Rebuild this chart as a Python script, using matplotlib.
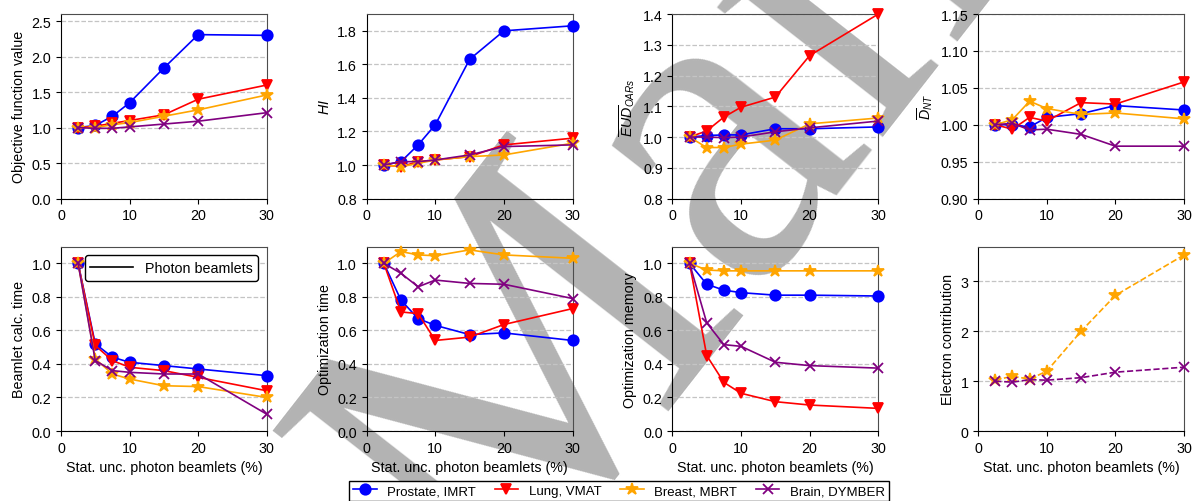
import numpy as np
import matplotlib
matplotlib.use("Agg")
import matplotlib.pyplot as plt
from matplotlib.lines import Line2D

plt.rcParams['font.family'] = ['Liberation Sans', 'DejaVu Sans']
plt.rcParams['mathtext.fontset'] = 'custom'
plt.rcParams['mathtext.rm'] = 'Liberation Sans'
plt.rcParams['mathtext.it'] = 'Liberation Sans:italic'
plt.rcParams['font.size'] = 10.3

# Statistical uncertainty of photon beamlets (%)
unc = [2.5, 5, 7.5, 10, 15, 20, 30]

# Objective function value
obj_prostate = [1.00, 1.03, 1.16, 1.35, 1.84, 2.31, 2.30]
obj_lung = [1.00, 1.02, 1.06, 1.10, 1.18, 1.40, 1.60]
obj_breast = [1.00, 1.00, 1.04, 1.07, 1.16, 1.25, 1.46]
obj_brain = [1.00, 0.99, 0.99, 1.01, 1.05, 1.09, 1.21]

# HI
hi_prostate = [1.00, 1.02, 1.12, 1.24, 1.63, 1.80, 1.83]
hi_lung = [1.00, 0.99, 1.02, 1.03, 1.05, 1.12, 1.16]
hi_breast = [1.00, 0.99, 1.01, 1.03, 1.05, 1.06, 1.13]
hi_brain = [1.00, 1.02, 1.02, 1.03, 1.06, 1.11, 1.12]

# mean EUD OARs
eud_prostate = [1.000, 1.005, 1.007, 1.007, 1.027, 1.027, 1.033]
eud_lung = [1.000, 1.020, 1.065, 1.097, 1.130, 1.265, 1.400]
eud_breast = [1.000, 0.966, 0.966, 0.977, 0.990, 1.043, 1.062]
eud_brain = [1.000, 1.000, 0.998, 1.000, 1.017, 1.030, 1.052]

# mean dose normal tissue
dnt_prostate = [1.000, 1.000, 0.997, 1.010, 1.015, 1.026, 1.020]
dnt_lung = [1.000, 0.994, 1.010, 1.005, 1.030, 1.028, 1.058]
dnt_breast = [1.000, 1.007, 1.032, 1.022, 1.014, 1.016, 1.008]
dnt_brain = [1.000, 1.002, 0.993, 0.994, 0.987, 0.971, 0.971]

# Beamlet calculation time
bct_prostate = [1.00, 0.52, 0.44, 0.41, 0.39, 0.37, 0.33]
bct_lung = [1.00, 0.51, 0.42, 0.38, 0.36, 0.32, 0.24]
bct_breast = [1.00, 0.43, 0.34, 0.31, 0.27, 0.265, 0.20]
bct_brain = [1.00, 0.42, 0.36, 0.35, 0.34, 0.34, 0.10]

# Optimization time
opt_prostate = [1.00, 0.78, 0.67, 0.63, 0.575, 0.585, 0.54]
opt_lung = [1.00, 0.71, 0.70, 0.54, 0.56, 0.635, 0.73]
opt_breast = [1.00, 1.07, 1.05, 1.045, 1.08, 1.05, 1.03]
opt_brain = [1.00, 0.94, 0.86, 0.90, 0.88, 0.875, 0.79]

# Optimization memory
mem_prostate = [1.00, 0.875, 0.84, 0.825, 0.81, 0.81, 0.805]
mem_lung = [1.00, 0.45, 0.29, 0.225, 0.175, 0.155, 0.135]
mem_breast = [1.00, 0.96, 0.955, 0.955, 0.955, 0.955, 0.955]
mem_brain = [1.00, 0.645, 0.515, 0.505, 0.41, 0.39, 0.375]

# Electron contribution (mixed-beam cases only)
el_breast = [1.02, 1.10, 1.04, 1.20, 2.00, 2.72, 3.53]
el_brain = [1.00, 0.98, 1.03, 1.02, 1.07, 1.18, 1.28]

case_labels = ["Prostate, IMRT", "Lung, VMAT", "Breast, MBRT", "Brain, DYMBER"]
colors = ["blue", "red", "orange", "purple"]
markers = ["o", "v", "*", "x"]
msizes = [7.5, 7.5, 9, 7]

fig, axes = plt.subplots(2, 4, figsize=(11.95, 5.02), dpi=100)
plt.subplots_adjust(left=0.051, right=0.9908, top=0.970, bottom=0.1394,
                    wspace=0.485, hspace=0.26)

# watermark behind the axes
fig.text(0.415, -0.225, "Manuscript", fontsize=330, family="Liberation Serif",
         color="#b3b3b3", rotation=52, rotation_mode="anchor",
         ha="left", va="baseline", zorder=-1)


def draw(ax, series, ylabel, ylim, ls="-", idx=(0, 1, 2, 3)):
    for i, y in zip(idx, series):
        ax.plot(unc, y, color=colors[i], marker=markers[i], ms=msizes[i],
                lw=1.2, ls=ls, mew=1.3, clip_on=False, zorder=3)
    ax.set_xlim(0, 30)
    ax.set_ylim(*ylim)
    ax.set_xticks([0, 10, 20, 30])
    ax.set_ylabel(ylabel)
    ax.set_facecolor("none")
    ax.yaxis.grid(True, ls="--", color="#c4c4c4", lw=0.9)
    ax.set_axisbelow(True)
    for s in ["top", "right"]:
        ax.spines[s].set_color("0.3")


draw(axes[0, 0], [obj_prostate, obj_lung, obj_breast, obj_brain],
     "Objective function value", (0, 2.6))
draw(axes[0, 1], [hi_prostate, hi_lung, hi_breast, hi_brain],
     r"$HI$", (0.8, 1.9))
draw(axes[0, 2], [eud_prostate, eud_lung, eud_breast, eud_brain],
     r"$\overline{EUD}_{OARs}$", (0.8, 1.4))
draw(axes[0, 3], [dnt_prostate, dnt_lung, dnt_breast, dnt_brain],
     r"$\overline{D}_{NT}$", (0.9, 1.15))
axes[0, 3].yaxis.set_major_formatter(plt.FormatStrFormatter("%.2f"))

draw(axes[1, 0], [bct_prostate, bct_lung, bct_breast, bct_brain],
     "Beamlet calc. time", (0, 1.1))
draw(axes[1, 1], [opt_prostate, opt_lung, opt_breast, opt_brain],
     "Optimization time", (0, 1.1))
draw(axes[1, 2], [mem_prostate, mem_lung, mem_breast, mem_brain],
     "Optimization memory", (0, 1.1))
draw(axes[1, 3], [el_breast, el_brain], "Electron contribution", (0, 3.7),
     ls="--", idx=(2, 3))
axes[1, 3].set_yticks([0, 1, 2, 3])

for ax in axes[1]:
    ax.set_xlabel("Stat. unc. photon beamlets (%)")

axes[1, 0].legend([Line2D([], [], color="black", lw=1.2)], ["Photon beamlets"],
                  loc="upper right", edgecolor="black", framealpha=1,
                  fontsize=10.3, borderaxespad=0.6, handlelength=3)

handles = [Line2D([], [], color=c, marker=m, ms=s, lw=1.2, mew=1.3)
           for c, m, s in zip(colors, markers, msizes)]
fig.legend(handles, case_labels, loc="upper center", ncol=4,
           bbox_to_anchor=(0.518, 0.04), borderaxespad=0, edgecolor="black",
           fancybox=False, framealpha=1, fontsize=9.5, handlelength=1.8,
           columnspacing=1.4, borderpad=0.3)

plt.savefig("out.png", dpi=100)
